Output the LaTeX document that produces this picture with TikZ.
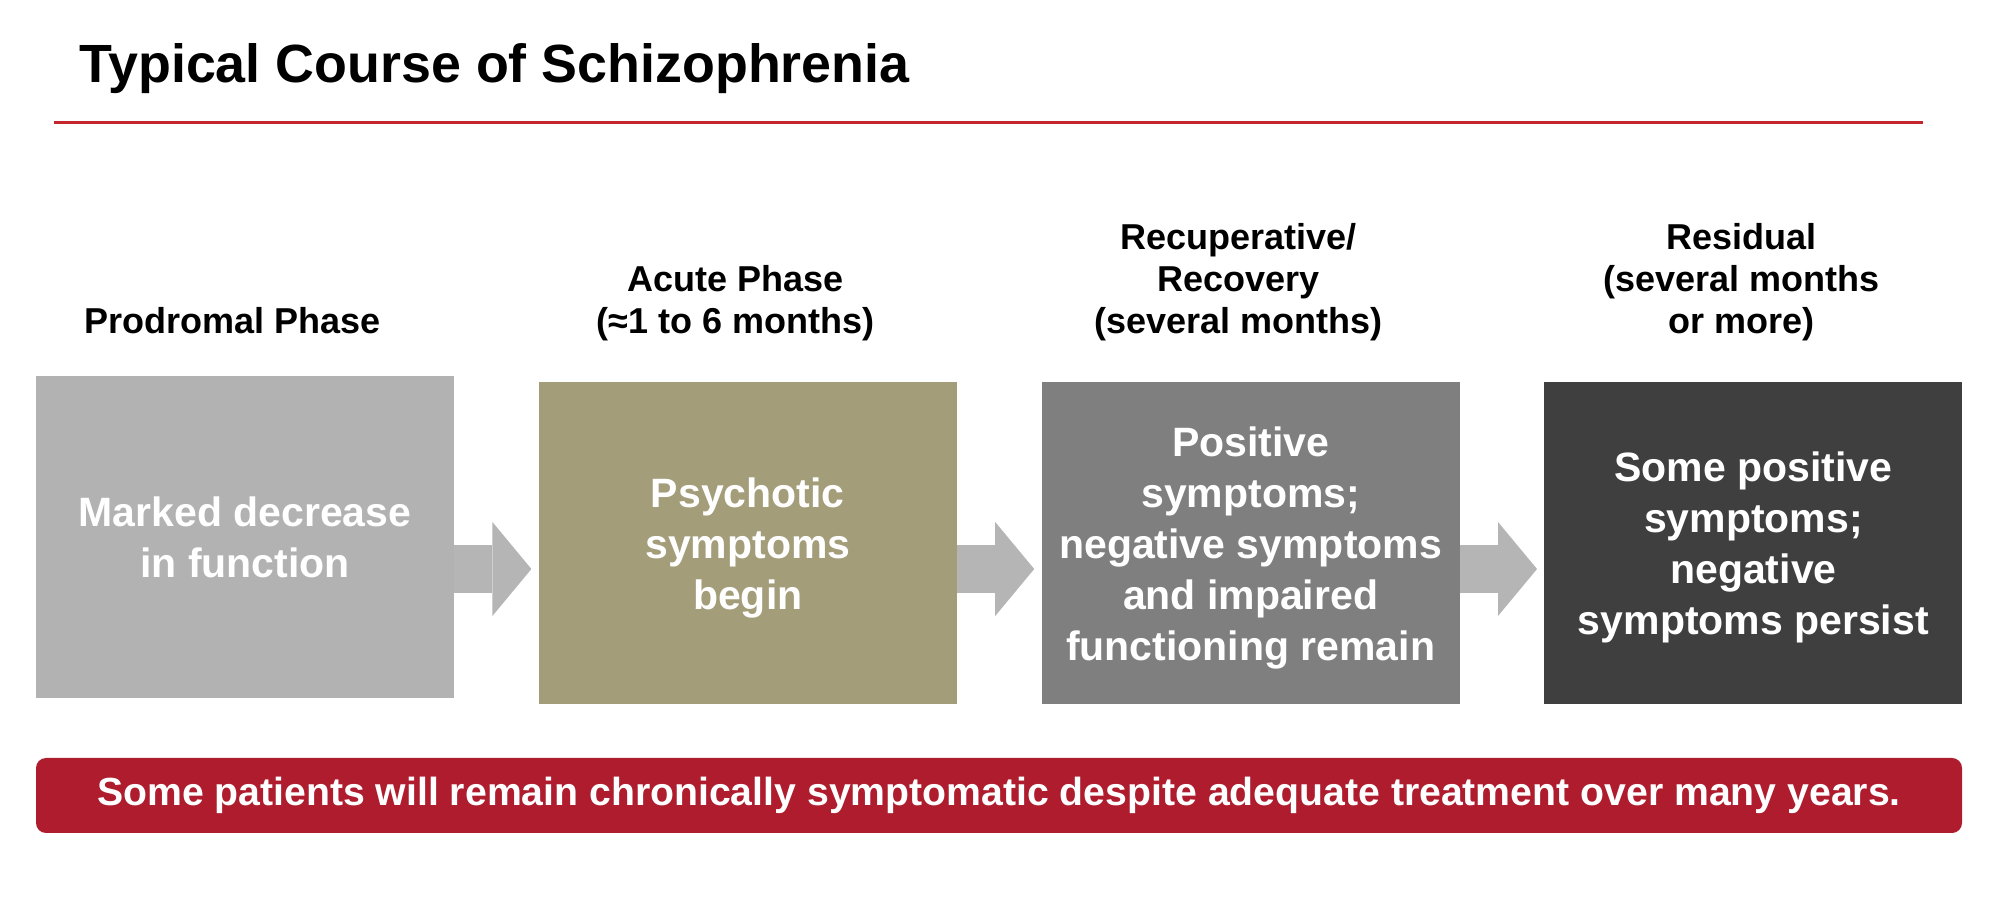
\documentclass[tikz,border=0pt]{standalone}
\usepackage{fontspec}
\setmainfont{Liberation Sans}
\usetikzlibrary{arrows.meta,positioning}
\definecolor{courseRed}{HTML}{C3272D}
\definecolor{bannerRed}{HTML}{AE1C2E}
\definecolor{flowGray}{HTML}{B5B5B5}
\definecolor{prodromeGray}{HTML}{B2B2B2}
\definecolor{acuteOlive}{HTML}{A49D7A}
\definecolor{recoveryGray}{HTML}{7F7F7F}
\definecolor{residualGray}{HTML}{3F3F3F}

\begin{document}
\begin{tikzpicture}[x=0.5pt,y=0.5pt,node distance=42pt]
\tikzstyle{phase}=[minimum width=209pt,minimum height=161pt,inner sep=0pt,text depth=0pt,align=center,text=white,font=\fontsize{20.5}{25.5}\selectfont\bfseries]
\tikzstyle{tag}=[anchor=south,text depth=0pt,inner sep=0pt,align=center,xshift=-6pt,font=\fontsize{18}{21}\selectfont\bfseries]
\tikzstyle{flow}=[draw=flowGray,line width=24pt,-{Triangle[width=47pt,length=19.5pt,line width=0pt]},shorten >=3.5pt]
\useasboundingbox (0,0) rectangle (2000,904);
\node[anchor=base west,inner sep=0pt,font=\fontsize{26.9}{32}\selectfont\bfseries] (title) at (79,821) {Typical Course of Schizophrenia};
\coordinate (rule) at (54,781);
\draw[courseRed,line width=1.5pt] (rule) -- ++(1869,0);
% phases
\node[phase,fill=prodromeGray] (p1) at (245,366.5) {Marked decrease\\in function};
\node[phase,fill=acuteOlive,right=of p1,yshift=-3pt] (p2) {Psychotic\\symptoms\\begin};
\node[phase,fill=recoveryGray,right=of p2] (p3) {Positive\\symptoms;\\negative symptoms\\and impaired\\functioning remain};
\node[phase,fill=residualGray,right=of p3] (p4) {Some positive\\symptoms;\\negative\\symptoms persist};
% headings
\coordinate (hdr) at (0,570);
\node[tag] (t1) at (p1.north |- hdr) {Prodromal Phase};
\node[tag] (t2) at (p2.north |- hdr) {Acute Phase\\(≈1 to 6 months)};
\node[tag] (t3) at (p3.north |- hdr) {Recuperative/\\Recovery\\(several months)};
\node[tag] (t4) at (p4.north |- hdr) {Residual\\(several months\\or more)};
% arrows
\coordinate (lane) at (0,335);
\foreach \x/\y in {p1/p2,p2/p3,p3/p4}{\draw[flow] (\x.east |- lane) -- (\y.west |- lane);}
\node[fill=bannerRed,rounded corners=5pt,minimum width=963pt,minimum height=37.5pt,inner sep=0pt,text=white,font=\fontsize{19.6}{24}\selectfont\bfseries] (note) at (999,108.5) {Some patients will remain chronically symptomatic despite adequate treatment over many years.};
\end{tikzpicture}
\end{document}
